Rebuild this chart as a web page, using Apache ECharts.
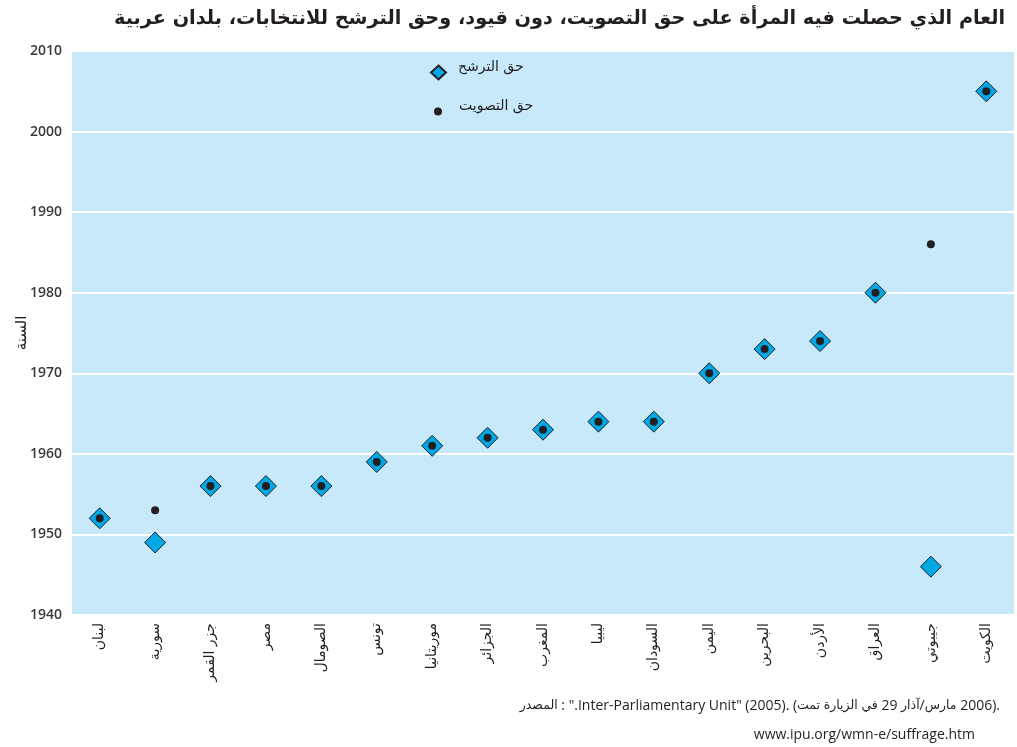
<!DOCTYPE html>
<html dir="ltr" lang="en">
<head>
<meta charset="utf-8">
<script src="https://cdn.jsdelivr.net/npm/echarts@6/dist/echarts.min.js"></script>
<style>
html,body{margin:0;padding:0;background:#fff;}
#chart{width:1017px;height:747px;}
</style>
</head>
<body>
<div id="chart"></div>
<script>
const countries = ['لبنان','سورية','جزر القمر','مصر','الصومال','تونس','موريتانيا','الجزائر','المغرب','ليبيا','السودان','اليمن','البحرين','الأردن','العراق','جيبوتي','الكويت'];
const candidacyYears = [1952,1949,1956,1956,1956,1959,1961,1962,1963,1964,1964,1970,1973,1974,1980,1946,2005];
const voteYears      = [1952,1953,1956,1956,1956,1959,1961,1962,1963,1964,1964,1970,1973,1974,1980,1986,2005];
const seriesNames = ['حق الترشح','حق التصويت'];
const yTicks = [1940,1950,1960,1970,1980,1990,2000,2010];

const titleText = 'العام الذي حصلت فيه المرأة على حق التصويت، دون قيود، وحق الترشح للانتخابات، بلدان عربية';
const yName = 'السنة';
// source line pieces in visual (left-to-right) order; each rendered as its own rich-text token
const sourcePieces = [
  ['a', 'المصدر'], ['l', ' : ".Inter-Parliamentary Unit" (2005). ('], ['a', 'تمت'], ['l', ' '],
  ['a', 'الزيارة'], ['l', ' '], ['a', 'في'], ['l', ' 29 '], ['a', 'آذار'], ['l', '/'], ['a', 'مارس'], ['l', ' 2006).']
];
const sourceLine2 = 'www.ipu.org/wmn-e/suffrage.htm';

const dark = '#231f20';
const sourceRich = sourcePieces.map(p => '{' + p[0] + '|' + p[1] + '}').join('');

const chart = echarts.init(document.getElementById('chart'));
chart.setOption({
  backgroundColor: '#ffffff',
  animation: false,
  title: {
    text: titleText,
    right: 7, top: 4,
    textStyle: {fontFamily: 'DejaVu Sans', fontWeight: 'bold', fontSize: 19.3, color: dark}
  },
  legend: [
    {
      data: [{name: seriesNames[0], icon: 'diamond'}],
      left: 430, top: 60.5, padding: 0, itemWidth: 15, itemHeight: 14,
      formatter: '{a|{name}}',
      textStyle: {rich: {a: {fontFamily: 'DejaVu Sans', fontSize: 14, color: dark, padding: [0,0,10,7]}}}
    },
    {
      data: [{name: seriesNames[1], icon: 'circle'}],
      left: 434, top: 99.5, padding: 0, itemWidth: 8, itemHeight: 8,
      formatter: '{a|{name}}',
      textStyle: {rich: {a: {fontFamily: 'DejaVu Sans', fontSize: 14, color: dark, padding: [0,0,10,12]}}}
    }
  ],
  grid: {left: 72, right: 3, top: 51, bottom: 132, show: true, backgroundColor: '#c7e9f9', borderWidth: 0, containLabel: false, outerBoundsMode: 'none'},
  xAxis: {
    type: 'category',
    data: countries,
    boundaryGap: true,
    axisLine: {show: false},
    axisTick: {show: false},
    splitLine: {show: false},
    axisLabel: {rotate: 90, interval: 0, margin: 8, fontFamily: 'DejaVu Sans', fontSize: 14, color: dark}
  },
  yAxis: {
    type: 'value',
    min: yTicks[0], max: yTicks[yTicks.length-1], interval: 10,
    name: yName, nameLocation: 'middle', nameRotate: 90, nameGap: 42, nameMoveOverlap: false,
    nameTextStyle: {fontFamily: 'DejaVu Sans', fontSize: 15, color: dark},
    axisLine: {show: false},
    axisTick: {show: false},
    splitLine: {show: true, lineStyle: {color: '#ffffff', width: 2}},
    axisLabel: {margin: 10, fontFamily: 'Open Sans', fontWeight: 600, fontSize: 14, color: '#3a3a3a', formatter: v => String(v)}
  },
  graphic: [
    {type: 'text', right: 17, top: 699, style: {
      text: sourceRich,
      rich: {
        a: {fontFamily: 'DejaVu Sans', fontSize: 12.5, fill: dark, color: dark},
        l: {fontFamily: 'Open Sans', fontSize: 14, fill: dark, color: dark}
      }
    }},
    {type: 'text', right: 42, top: 728, style: {text: sourceLine2, fontFamily: 'Open Sans', fontSize: 14, fill: dark}}
  ],
  series: [
    {
      name: seriesNames[0], type: 'scatter', data: candidacyYears,
      symbol: 'diamond', symbolSize: 21,
      itemStyle: {color: '#00a8e6', borderColor: dark, borderWidth: 1, opacity: 1}
    },
    {
      name: seriesNames[1], type: 'scatter', data: voteYears,
      symbol: 'circle', symbolSize: 8,
      itemStyle: {color: dark, opacity: 1}
    }
  ]
});
</script>
</body>
</html>
